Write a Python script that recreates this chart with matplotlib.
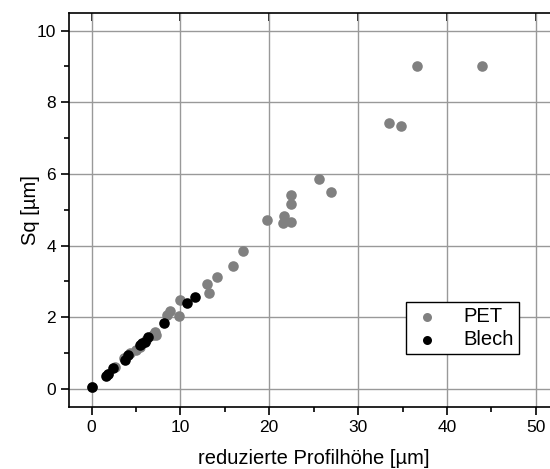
import numpy as np
import matplotlib
matplotlib.use('Agg')
from matplotlib import pyplot as plt
from matplotlib.ticker import MultipleLocator

plt.rcParams['font.family'] = ['Liberation Sans', 'DejaVu Sans']

# PET samples (gray)
pet_x = [0.1, 1.8, 2.6, 3.7, 4.3, 5.0, 5.5, 6.1, 6.9, 7.13, 7.3, 8.45, 8.8, 9.83, 10.0,
         12.95, 13.25, 14.1, 15.9, 17.1, 19.8, 21.5, 21.66, 22.5, 22.5, 22.5,
         25.6, 26.95, 33.5, 34.8, 36.6, 43.95]
pet_y = [0.05, 0.4, 0.6, 0.85, 1.0, 1.09, 1.18, 1.35, 1.5, 1.6, 1.5, 2.07, 2.16, 2.02, 2.47,
         2.92, 2.67, 3.12, 3.44, 3.85, 4.71, 4.62, 4.83, 4.66, 5.16, 5.42,
         5.87, 5.49, 7.43, 7.33, 9.02, 9.02]

# Blech samples (black)
blech_x = [0.11, 1.6, 1.85, 2.43, 3.75, 4.12, 5.44, 5.63, 6.0, 6.38, 8.14, 10.7, 11.7]
blech_y = [0.06, 0.36, 0.42, 0.58, 0.81, 0.95, 1.23, 1.28, 1.32, 1.44, 1.83, 2.39, 2.57]

fig = plt.figure(figsize=(5.5, 4.69), dpi=100)
ax = fig.add_axes([0.126, 0.1328, 0.8886, 0.840])

ax.scatter(pet_x, pet_y, s=58, color='#808080', linewidths=0, label='PET', zorder=3)
ax.scatter(blech_x, blech_y, s=58, color='black', linewidths=0, label='Blech', zorder=4)

ax.set_xlim(-2.5, 52.5)
ax.set_ylim(-0.5, 10.5)
ax.xaxis.set_major_locator(MultipleLocator(10))
ax.xaxis.set_minor_locator(MultipleLocator(5))
ax.yaxis.set_major_locator(MultipleLocator(2))
ax.yaxis.set_minor_locator(MultipleLocator(1))

ax.grid(True, which='major', color='#999999', lw=1)
ax.set_axisbelow(True)

for sp in ax.spines.values():
    sp.set_linewidth(1.2)
ax.spines['right'].set_visible(False)
ax.tick_params(which='major', direction='out', length=6, width=1.2, labelsize=12.5,
               top=False, right=False)
ax.tick_params(which='minor', direction='out', length=3.5, width=1.2, top=False, right=False)
# inward major ticks on top spine
sec = ax.secondary_xaxis('top')
sec.xaxis.set_major_locator(MultipleLocator(10))
sec.tick_params(direction='in', length=6, width=1.2, labeltop=False)
sec.spines['top'].set_visible(False)

ax.set_xlabel('reduzierte Profilhöhe [µm]', fontsize=14.5, labelpad=10)
ax.set_ylabel('Sq [µm]', fontsize=14.5, labelpad=-2)

leg = ax.legend(loc='lower right', bbox_to_anchor=(519 / 550, 1 - 354 / 469),
                bbox_transform=fig.transFigure, fontsize=14.5,
                frameon=True, fancybox=False, edgecolor='black', framealpha=1,
                handletextpad=1.0, borderpad=0.25, labelspacing=0.2, handlelength=1.6,
                markerscale=0.85, borderaxespad=0)
leg.get_frame().set_linewidth(1.0)

plt.savefig('out.png', dpi=100)
